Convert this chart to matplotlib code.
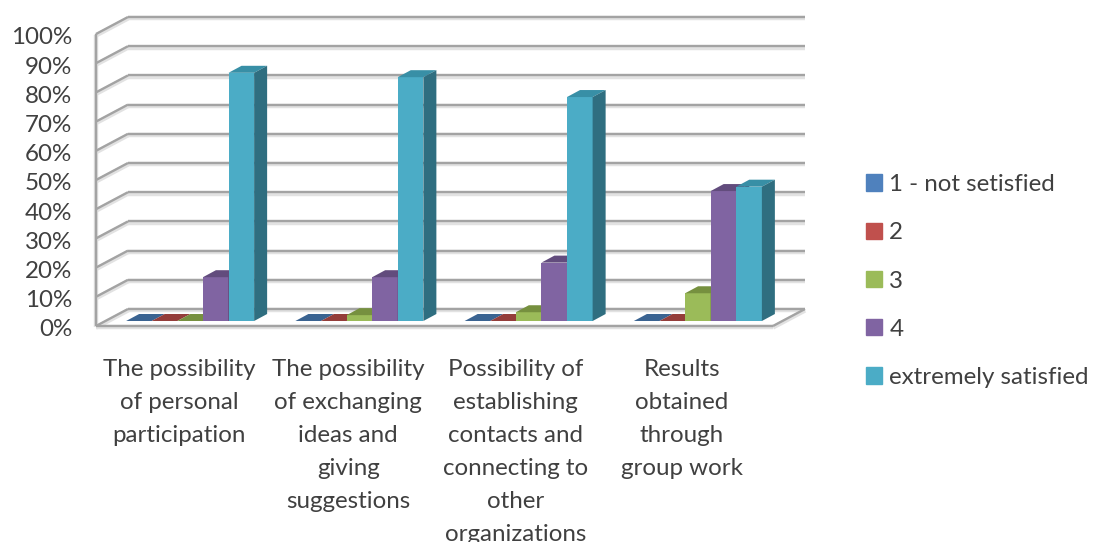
import numpy as np
import matplotlib
matplotlib.use('Agg')
import matplotlib.pyplot as plt
from matplotlib.patches import Patch
from matplotlib.transforms import ScaledTranslation

plt.rcParams['font.family'] = ['Lato', 'DejaVu Sans']

categories = ['The possibility\nof personal\nparticipation',
              'The possibility\nof exchanging\nideas and\ngiving\nsuggestions',
              'Possibility of\nestablishing\ncontacts and\nconnecting to\nother\norganizations',
              'Results\nobtained\nthrough\ngroup work']
series_names = ['1 - not setisfied', '2', '3', '4', 'extremely satisfied']
not_satisfied = [0, 0, 0, 0]
two = [0, 0, 0, 0]
three = [0, 2, 3, 9.5]
four = [15, 15, 20, 44.5]
extremely = [85, 83.5, 76.7, 46]
series_values = [not_satisfied, two, three, four, extremely]
y_ticks = np.arange(0, 101, 10)
y_labels = [str(v) + '%' for v in y_ticks]

front_colors = ['#4F81BD', '#C0504D', '#9BBB59', '#8064A2', '#4BACC6']
top_colors = ['#3A6391', '#943D3A', '#76903F', '#624C7D', '#388FA6']
side_colors = ['#2F5178', '#7A3230', '#5F7533', '#4F3D66', '#2F6E80']
text_color = '#404040'

fig = plt.figure(figsize=(10.94, 5.42), dpi=100)
ax = fig.add_axes([96/1094, 1 - 326/542, 677/1094, 292/542])
ax.set_xlim(-0.5, 3.5)
ax.set_ylim(0, 100)
for s in ax.spines.values():
    s.set_visible(False)

# depth of the fake 3d box, in data units (1 category = 169.25 px, 1% = 2.92 px)
depth_x = 32 / 169.25
depth_y = 17 / 2.92
bar_w = 25.6 / 169.25
# bars stand a bit behind the front plane and are not as deep as the box
off_x = 9.5 / 169.25
off_y = 5 / 2.92
bar_dx = 13 / 169.25
bar_dy = 7 / 2.92


def wall_line(xs, ys):
    ax.plot(xs, np.array(ys) - 0.5, color='#e2e2e2', lw=3.2, zorder=1, clip_on=False, solid_capstyle='butt')
    ax.plot(xs, ys, color='#a3a3a3', lw=1.7, zorder=2, clip_on=False, solid_capstyle='butt')


for v in y_ticks:
    wall_line([-0.5 + depth_x, 3.5 + depth_x], [v + depth_y, v + depth_y])
    wall_line([-0.5, -0.5 + depth_x], [v, v + depth_y])
wall_line([-0.5, -0.5], [0, 100])
wall_line([-0.5, 3.5], [0, 0])
wall_line([3.5, 3.5 + depth_x], [0, depth_y])

x = np.arange(len(categories))
for g in x:
    for i in range(len(series_names)):
        val = series_values[i][g]
        left = g + off_x + (i - 2.5) * bar_w
        top = val + off_y
        ax.bar(left, val, width=bar_w, bottom=off_y, align='edge', color=front_colors[i], zorder=5 + i * 0.1 + g, clip_on=False)
        ax.fill([left, left + bar_w, left + bar_w + bar_dx, left + bar_dx],
                [top, top, top + bar_dy, top + bar_dy],
                color=top_colors[i], lw=0, zorder=5 + i * 0.1 + g, clip_on=False)
        ax.fill([left + bar_w, left + bar_w + bar_dx, left + bar_w + bar_dx, left + bar_w],
                [off_y, off_y + bar_dy, top + bar_dy, top],
                color=side_colors[i], lw=0, zorder=5 + i * 0.1 + g, clip_on=False)

ax.set_yticks(y_ticks)
ax.set_yticklabels(y_labels, fontsize=17.4, color=text_color)
ax.set_xticks(x - np.array([0.01, 0.01, 0.02, 0.04]))
ax.set_xticklabels(categories, fontsize=17.4, color=text_color, linespacing=1.7)
ax.tick_params(axis='y', length=0, pad=17)
ax.tick_params(axis='x', length=0, pad=24)
# y labels sit about 2 px lower in the original
for lab in ax.get_yticklabels():
    lab.set_transform(lab.get_transform() + ScaledTranslation(0, -2/72*72/100, fig.dpi_scale_trans))

handles = [Patch(color=c, label=n) for c, n in zip(front_colors, series_names)]
ax.legend(handles=handles, loc='center left', bbox_to_anchor=(866/1094, 1 - 281/542),
          bbox_transform=fig.transFigure, frameon=False, fontsize=17.4, labelcolor=text_color,
          handlelength=0.66, handleheight=0.66, handletextpad=0.3, labelspacing=1.13,
          borderpad=0, borderaxespad=0)

fig.savefig('out.png', dpi=100)
